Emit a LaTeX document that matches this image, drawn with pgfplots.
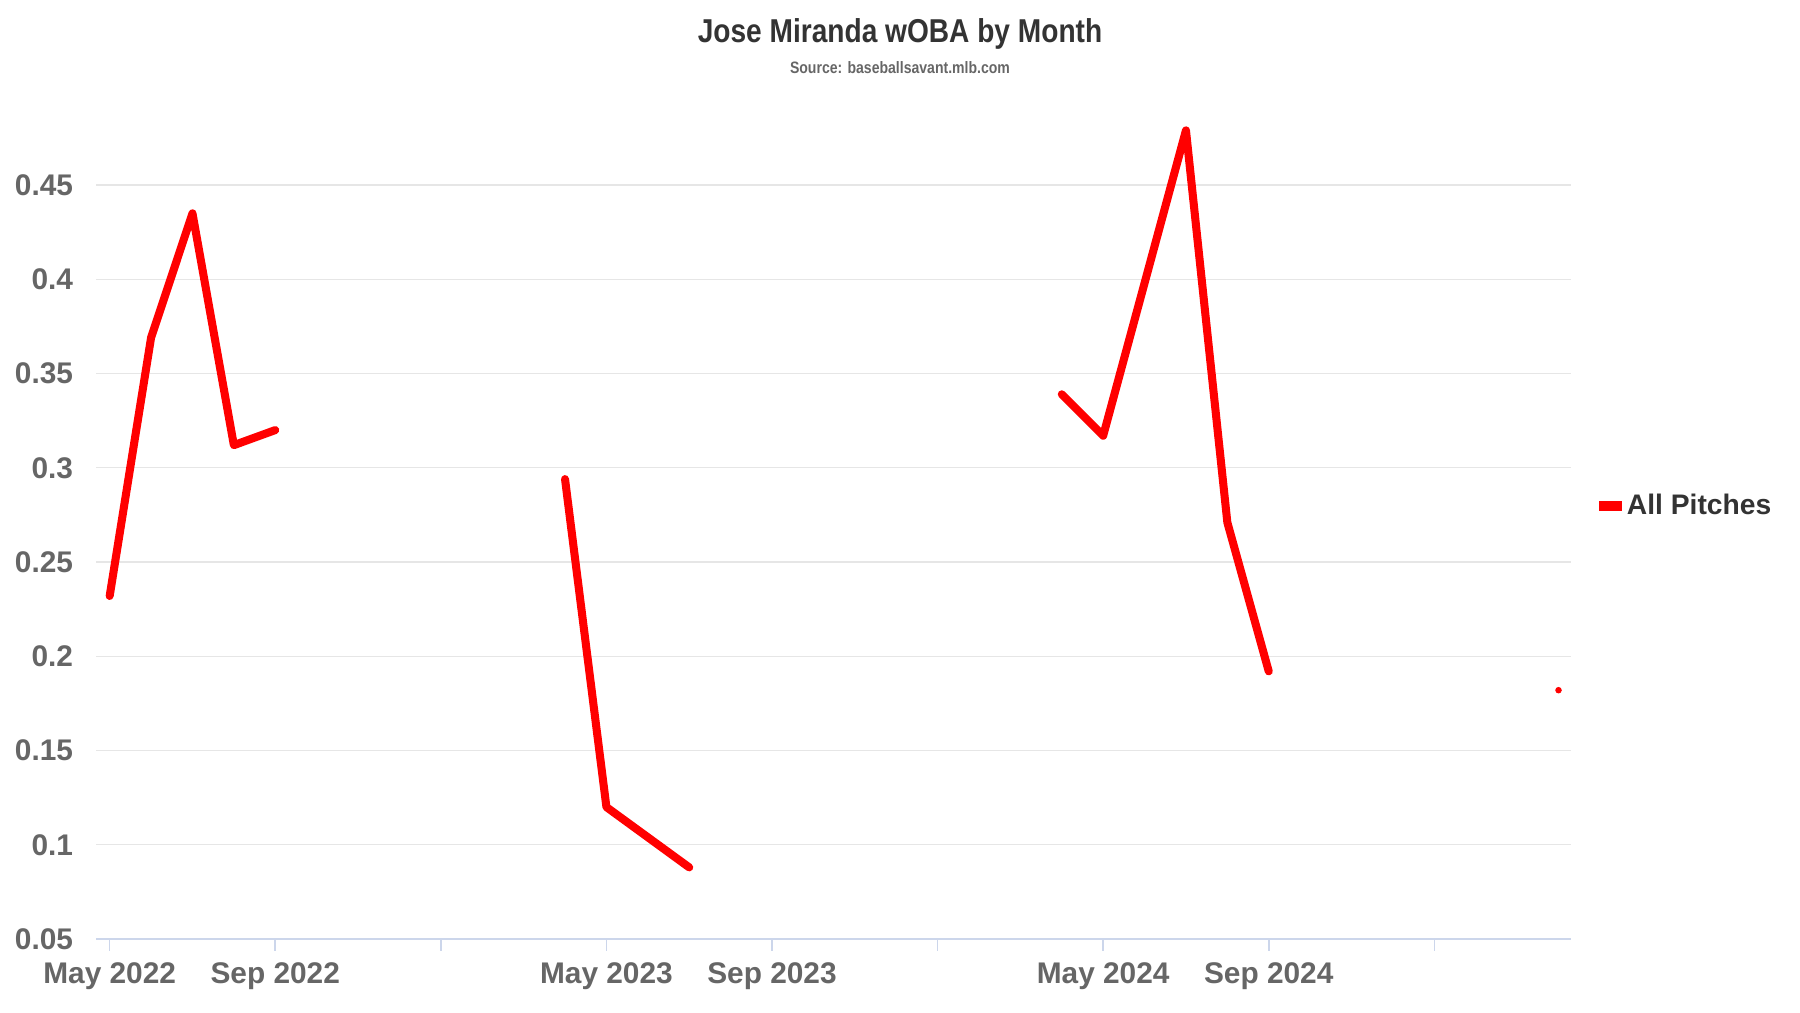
\documentclass[border=0pt]{standalone}
\usepackage{fontspec}
\setmainfont{Liberation Sans}
\newfontfamily\condfont[FakeStretch=0.85]{Liberation Sans}
\usepackage{pgfplots}
\usepackage{pgfplotstable}
\pgfplotsset{compat=1.18}
\definecolor{linered}{HTML}{FF0000}
\definecolor{tickgray}{HTML}{666666}
\definecolor{titlegray}{HTML}{333333}
\definecolor{axisblue}{HTML}{CCD6EB}
\definecolor{gridgray}{HTML}{E6E6E6}

\pgfplotstableread{
x y
0 0.232
1 0.369
2 0.435
3 0.312
4 0.320
5 nan
11 0.294
12 0.120
13 0.104
14 0.088
15 nan
23 0.339
24 0.317
25 0.398
26 0.479
27 0.271
28 0.192
}\woba
\pgfplotstableread{
x y
35 0.182
}\single

\begin{document}
\begin{tikzpicture}
\begin{axis}[
  x=18.03bp, y=821bp,
  xmin=-0.32, xmax=35.3, ymin=0.05, ymax=0.48,
  clip=false,
  axis x line*=bottom, axis y line*=left,
  x axis line style={draw=axisblue, line width=0.7bp},
  y axis line style={draw=none},
  xtick={0,4,8,12,16,20,24,28,32},
  xticklabels={May 2022,Sep 2022,,May 2023,Sep 2023,,May 2024,Sep 2024,},
  ytick={0.05,0.1,0.15,0.2,0.25,0.3,0.35,0.4,0.45},
  yticklabels={0.05,0.1,0.15,0.2,0.25,0.3,0.35,0.4,0.45},
  tick align=outside,
  x tick style={draw=axisblue, line width=0.7bp},
  major tick length=5bp,
  y tick style={draw=none},
  ymajorgrids,
  grid style={draw=gridgray, line width=0.5bp},
  ticklabel style={font=\bfseries\fontsize{13bp}{15bp}\selectfont, text=tickgray},
  yticklabel style={anchor=east, inner sep=0pt, xshift=-5bp},
  xticklabel style={anchor=north, inner sep=0pt, yshift=-5bp},
  unbounded coords=jump,
  legend style={at={(1.019,0.534)}, anchor=west, draw=none, fill=none, inner sep=0pt,
    font=\bfseries\fontsize{12.3bp}{14bp}\selectfont, text=titlegray},
  legend image code/.code={\fill[linered, draw=none] (0bp,-2.2bp) rectangle (10bp,2.2bp);},
]
\coordinate (O) at (rel axis cs:0,0);
\addplot[linered, line width=3.5bp, line cap=round, line join=round, mark=none] table[x=x,y=y] {\woba};
\addlegendentry{All Pitches}
\addplot[linered, only marks, mark=*, mark size=1.2bp, forget plot] table[x=x,y=y] {\single};
\end{axis}
\node[anchor=base, font=\condfont\bfseries\fontsize{14.4bp}{16bp}\selectfont, text=titlegray]
  at ([shift={(350bp,390.5bp)}]O) {Jose Miranda wOBA by Month};
\node[anchor=base, font=\condfont\bfseries\fontsize{7.2bp}{8bp}\selectfont, text=tickgray]
  at ([shift={(350bp,377bp)}]O) {Source: baseballsavant.mlb.com};
\path[use as bounding box] ([shift={(-42bp,-32bp)}]O) rectangle ([shift={(742bp,409bp)}]O);
\end{tikzpicture}
\end{document}
